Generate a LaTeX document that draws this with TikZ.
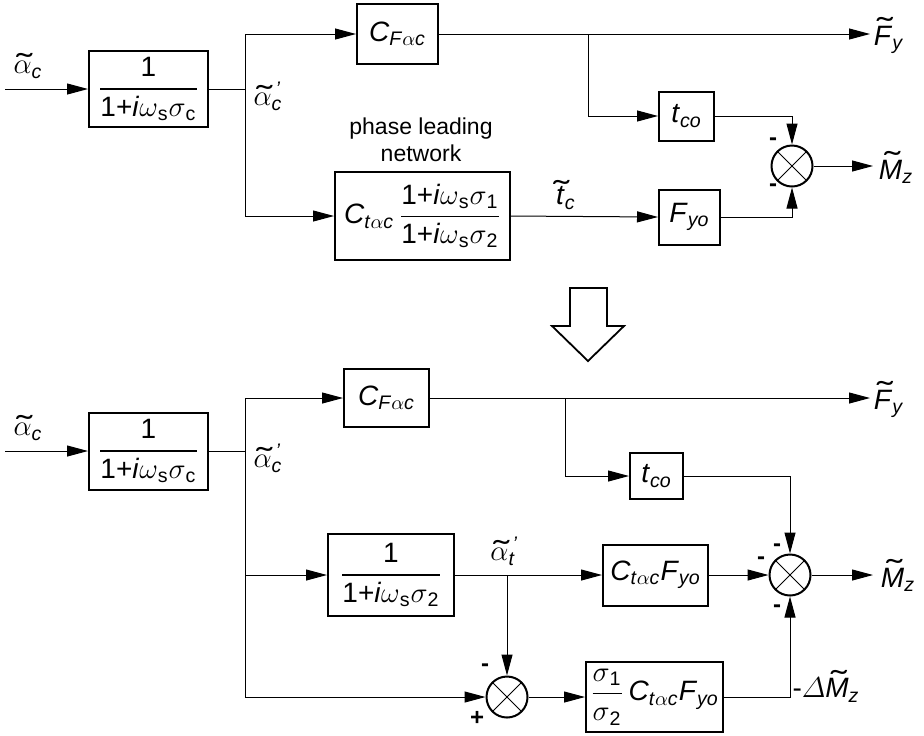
\documentclass[tikz,border=0pt]{standalone}
\usepackage{fontspec}
\usepackage{amsmath}
\setmainfont{Liberation Sans}
\usetikzlibrary{arrows.meta}
\newsavebox\tlbox
\newcommand{\Tl}[3]{\sbox\tlbox{#3}\rlap{\makebox[\wd\tlbox]{\hspace{#1}\raisebox{#2}[0pt][0pt]{\scalebox{1.7}[1.1]{˜}}}}\usebox\tlbox}
\newcommand{\sub}[1]{\textsubscript{#1}}
\newcommand{\prm}{\rlap{\kern2pt\textsuperscript{\textit{'}}}}
\newcommand{\ga}{$\alpha$}
\newcommand{\gw}{$\omega$}
\newcommand{\gs}{$\sigma$}
\tikzset{
  lbl/.style={font=\fontsize{14}{16}\selectfont, inner sep=0pt},
  blk/.style={draw, line width=1pt, inner sep=0pt, font=\fontsize{14}{16}\selectfont},
  sumc/.style={circle, draw, line width=1pt, minimum size=20.5pt, inner sep=0pt,
    path picture={\draw[line width=0.5pt] (path picture bounding box.south west) -- (path picture bounding box.north east)
      (path picture bounding box.north west) -- (path picture bounding box.south east);}},
  arr/.style={-{Triangle[length=10.5pt,width=5.5pt]}},
  sgn/.style={font=\fontsize{12}{14}\selectfont\bfseries, inner sep=0pt},
}
\begin{document}
\begin{tikzpicture}[x=0.5pt,y=-0.5pt,line width=0.5pt]
\useasboundingbox (0,0) rectangle (924,735);
% ---------------- top ----------------
\node[blk, minimum width=59.5pt, minimum height=38pt] (b1) at (148.5,89)
  {$\dfrac{\text{1}}{\text{1+\textit{i}\gw\sub{s}\gs\sub{c}}}$};
\node[blk, minimum width=40.5pt, minimum height=30pt] (cf1) at (397.5,34)
  {\textit{C}\sub{\textit{F}\ga\textit{c}}};
\node[blk, minimum width=87.5pt, minimum height=44pt] (pl) at (422.5,216)
  {\textit{C}\sub{\textit{t}\ga\textit{c}}$\,\dfrac{\text{1+\textit{i}\gw\sub{s}\gs\sub{1}}}{\text{1+\textit{i}\gw\sub{s}\gs\sub{2}}}$};
\node[blk, minimum width=27.5pt, minimum height=24.5pt] (tco1) at (686.5,116)
  {\textit{t}\sub{\textit{co}}};
\node[blk, minimum width=30.5pt, minimum height=27.5pt] (fyo1) at (689.5,217)
  {\textit{F}\sub{\textit{yo}}};
\node[sumc] (s1) at (792,166) {};

\coordinate (in1) at (5,89);
\coordinate (j1) at (245,89);
\coordinate (j2) at (588,34);
\coordinate (fy1) at (870,34);
\coordinate (mz1) at (873,166);

\draw[arr] (in1) -- (b1);
\draw (b1.east) -- (j1);
\draw[arr] (j1) |- (cf1.west);
\draw[arr] (j1) |- (pl.west);
\draw (cf1.east) -- (j2);
\draw[arr] (j2) -- (fy1);
\draw[arr] (j2) |- (tco1.west);
\draw[arr] (pl.east) -- (fyo1.west);
\draw[arr] (tco1.east) -| (s1.north);
\draw[arr] (fyo1.east) -| (s1.south);
\draw[arr] (s1.east) -- (mz1);

\node[lbl] (la1) at (28,70) {\Tl{2pt}{-0.05em}{\ga}\sub{\textit{c}}};
\node[lbl] (la2) at (268,96) {\Tl{2pt}{-0.05em}{\ga}\prm\sub{\textit{c}}};
\node[lbl, align=center, font=\fontsize{11.5}{13.5}\selectfont] (plt) at (421,140) {phase leading\\network};
\node[lbl] (ltc) at (566,198) {\Tl{1pt}{0.1em}{\textit{t}}\sub{\textit{c}}};
\node[lbl] (lfy1) at (889,40) {\Tl{2pt}{0.2em}{\textit{F}}\sub{\textit{y}}};
\node[lbl] (lmz1) at (896,172) {\Tl{2pt}{0.2em}{\textit{M}}\sub{\textit{z}}};
\node[sgn] (m1) at (773,142) {-};
\node[sgn] (m2) at (773,188) {-};

% ---------------- hollow arrow ----------------
\draw[line width=0.9pt, line join=miter] (570,288) -- (607,288) -- (607,326) -- (624,326) -- (588,361) -- (552,326) -- (570,326) -- cycle;

% ---------------- bottom ----------------
\node[blk, minimum width=59.5pt, minimum height=38.5pt] (b1b) at (148.5,451)
  {$\dfrac{\text{1}}{\text{1+\textit{i}\gw\sub{s}\gs\sub{c}}}$};
\node[blk, minimum width=42.5pt, minimum height=29pt] (cf2) at (386.5,398)
  {\textit{C}\sub{\textit{F}\ga\textit{c}}};
\node[blk, minimum width=26.5pt, minimum height=23pt] (tco2) at (656.5,476)
  {\textit{t}\sub{\textit{co}}};
\node[blk, minimum width=63pt, minimum height=41pt] (b2) at (391,575)
  {$\dfrac{\text{1}}{\text{1+\textit{i}\gw\sub{s}\gs\sub{2}}}$};
\node[blk, minimum width=52.5pt, minimum height=30.5pt] (ctf) at (655.5,575)
  {\textit{C}\sub{\textit{t}\ga\textit{c}}\textit{F}\sub{\textit{yo}}};
\node[blk, minimum width=68.5pt, minimum height=35pt] (b3) at (654.5,697)
  {$\dfrac{\text{\gs\sub{1}}}{\text{\gs\sub{2}}}$\,\textit{C}\sub{\textit{t}\ga\textit{c}}\textit{F}\sub{\textit{yo}}};
\node[sumc] (s2) at (507,697) {};
\node[sumc] (s3) at (790,575) {};

\coordinate (in2) at (5,451);
\coordinate (k1) at (245,451);
\coordinate (k2) at (565,398);
\coordinate (k3) at (507,575);
\coordinate (fy2) at (870,398);
\coordinate (mz2) at (873,575);

\draw[arr] (in2) -- (b1b);
\draw (b1b.east) -- (k1);
\draw[arr] (k1) |- (cf2.west);
\draw[arr] (k1) |- (b2.west);
\draw[arr] (k1) |- (s2.west);
\draw (cf2.east) -- (k2);
\draw[arr] (k2) -- (fy2);
\draw[arr] (k2) |- (tco2.west);
\draw[arr] (tco2.east) -| (s3.north);
\draw[arr] (b2.east) -- (ctf.west);
\draw[arr] (k3) -- (s2.north);
\draw[arr] (s2.east) -- (b3.west);
\draw[arr] (ctf.east) -- (s3.west);
\draw[arr] (b3.east) -| (s3.south);
\draw[arr] (s3.east) -- (mz2);

\node[lbl] (la3) at (28,432) {\Tl{2pt}{-0.05em}{\ga}\sub{\textit{c}}};
\node[lbl] (la4) at (268,458) {\Tl{2pt}{-0.05em}{\ga}\prm\sub{\textit{c}}};
\node[lbl] (la5) at (503,551) {\Tl{2pt}{-0.05em}{\ga}\prm\sub{\textit{t}}};
\node[lbl] (lfy2) at (889,404) {\Tl{2pt}{0.2em}{\textit{F}}\sub{\textit{y}}};
\node[lbl] (lmz2) at (898,580) {\Tl{2pt}{0.2em}{\textit{M}}\sub{\textit{z}}};
\node[lbl, anchor=west] (ldm) at (792,690) {-$\varDelta$\Tl{2pt}{0.2em}{\textit{M}}\sub{\textit{z}}};
\node[sgn] (m3) at (777,548) {-};
\node[sgn] (m4) at (761,561) {-};
\node[sgn] (m5) at (777,609) {-};
\node[sgn] (m6) at (485,668) {-};
\node[sgn] (p1) at (477,718) {+};
\end{tikzpicture}
\end{document}
